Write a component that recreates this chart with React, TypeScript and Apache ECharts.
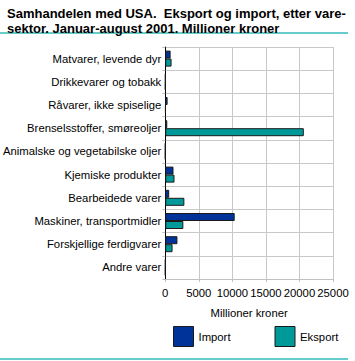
import React, { useEffect, useRef } from "react";
import * as echarts from "echarts";

const categories = [
  "Matvarer, levende dyr",
  "Drikkevarer og tobakk",
  "Råvarer, ikke spiselige",
  "Brenselsstoffer, smøreoljer",
  "Animalske og vegetabilske oljer",
  "Kjemiske produkter",
  "Bearbeidede varer",
  "Maskiner, transportmidler",
  "Forskjellige ferdigvarer",
  "Andre varer",
];
const importValues = [800, 30, 350, 300, 10, 1230, 590, 10350, 1820, 20];
const eksportValues = [940, 10, 60, 20650, 5, 1380, 2850, 2700, 1090, 10];
const xTicks = [0, 5000, 10000, 15000, 20000, 25000];

const FONT = "Liberation Sans";

export default function App() {
  const ref = useRef<HTMLDivElement>(null);
  useEffect(() => {
    if (!ref.current) return;
    const chart = echarts.init(ref.current, undefined, { renderer: "svg" });
    chart.setOption({
      animation: false,
      backgroundColor: "#ffffff",
      textStyle: { fontFamily: FONT },
      title: {
        text: "Samhandelen med USA.  Eksport og import, etter vare-\nsektor. Januar-august 2001. Millioner kroner",
        left: 2,
        top: 1,
        textStyle: {
          fontFamily: FONT,
          fontSize: 13,
          fontWeight: "bold",
          color: "#000",
          lineHeight: 15,
        },
      },
      graphic: [
        {
          type: "line",
          shape: { x1: 0, y1: 33, x2: 348, y2: 33 },
          style: { stroke: "#66CCCC", lineWidth: 2 },
        },
        {
          type: "line",
          shape: { x1: 0, y1: 359, x2: 348, y2: 359 },
          style: { stroke: "#66CCCC", lineWidth: 2 },
        },
      ],
      legend: {
        data: ["Import", "Eksport"],
        left: 168,
        top: 321,
        itemWidth: 20,
        itemHeight: 20,
        itemGap: 44,
        icon: "rect",
        itemStyle: { borderColor: "#1a1a1a", borderWidth: 1 },
        textStyle: { fontFamily: FONT, fontSize: 11.3, color: "#000" },
      },
      grid: { left: 163, right: 22, top: 47, bottom: 82, containLabel: false },
      xAxis: {
        type: "value",
        min: 0,
        max: 25000,
        interval: 5000,
        name: "Millioner kroner",
        nameLocation: "middle",
        nameGap: 28,
        nameTextStyle: { fontFamily: FONT, fontSize: 11.3, color: "#000" },
        axisLine: { show: true, lineStyle: { color: "#c0c0c0" } },
        axisTick: { show: true, length: 3, lineStyle: { color: "#c0c0c0" } },
        axisLabel: {
          fontFamily: FONT,
          fontSize: 11.3,
          color: "#000",
          margin: 8,
          formatter: (v: number) => (xTicks.includes(v) ? String(v) : ""),
        },
        splitLine: { show: true, lineStyle: { color: "#c8c8c8" } },
      },
      yAxis: {
        type: "category",
        data: categories,
        inverse: true,
        axisLine: { show: true, lineStyle: { color: "#000" } },
        axisTick: { show: true, length: 3, lineStyle: { color: "#c0c0c0" } },
        axisLabel: { fontFamily: FONT, fontSize: 11.3, color: "#000", margin: 4 },
        splitLine: { show: true, lineStyle: { color: "#c8c8c8" } },
      },
      series: [
        {
          name: "Import",
          type: "bar",
          data: importValues,
          barWidth: 8,
          barGap: "0%",
          itemStyle: { color: "#003399", borderColor: "#1a1a1a", borderWidth: 1 },
        },
        {
          name: "Eksport",
          type: "bar",
          data: eksportValues,
          barWidth: 8,
          itemStyle: { color: "#009999", borderColor: "#1a1a1a", borderWidth: 1 },
        },
      ],
    });
    return () => chart.dispose();
  }, []);
  return (
    <div
      ref={ref}
      style={{ position: "fixed", left: 0, top: 0, width: 355, height: 361 }}
    />
  );
}
